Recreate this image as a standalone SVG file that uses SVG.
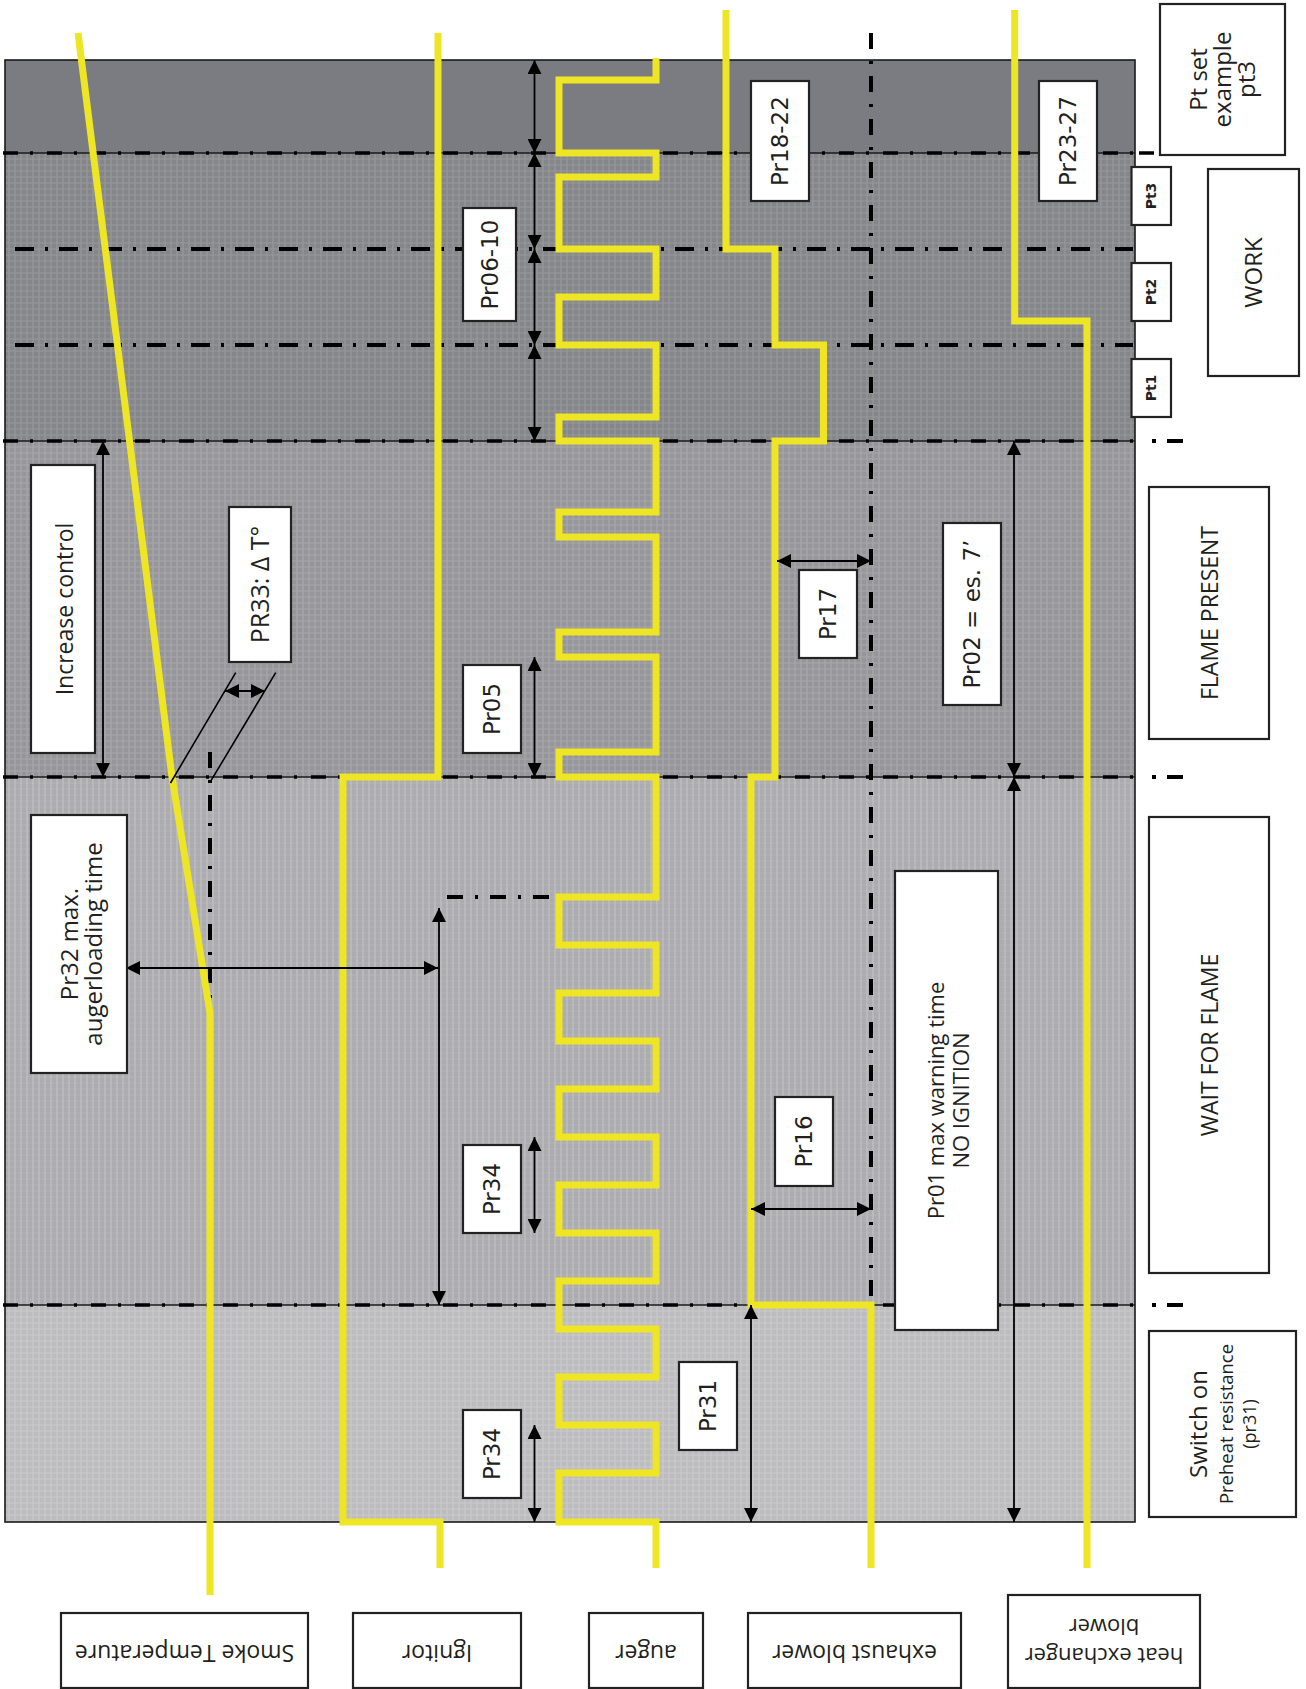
<svg xmlns="http://www.w3.org/2000/svg" width="1306" height="1689" viewBox="0 0 1306 1689">
<defs>
<pattern id="t2" width="6" height="6" patternUnits="userSpaceOnUse"><rect width="6" height="6" fill="#85868a"/><path d="M0,3H6M3,0V6" stroke="#97989c" stroke-width="1.2"/></pattern>
<pattern id="t3" width="6" height="6" patternUnits="userSpaceOnUse"><rect width="6" height="6" fill="#96969a"/><path d="M0,3H6M3,0V6" stroke="#a8a8ac" stroke-width="1.2"/></pattern>
<pattern id="t4" width="6" height="6" patternUnits="userSpaceOnUse"><rect width="6" height="6" fill="#acacb0"/><path d="M0,3H6" stroke="#b4b4b7" stroke-width="1"/><path d="M3,0V6" stroke="#bebec1" stroke-width="1.5"/></pattern>
<pattern id="t5" width="6" height="6" patternUnits="userSpaceOnUse"><rect width="6" height="6" fill="#bcbcbf"/><path d="M0,3H6M3,0V6" stroke="#cacacc" stroke-width="1.2"/></pattern>
<marker id="ah" viewBox="0 0 14 14" markerWidth="14" markerHeight="14" refX="14" refY="7" orient="auto-start-reverse" markerUnits="userSpaceOnUse"><path d="M0,0L14,7L0,14z" fill="#000"/></marker>
</defs>
<style>
.sig{fill:none;stroke:#EEE524;stroke-width:7;stroke-linejoin:miter}
.dim{stroke:#000;stroke-width:1.8;fill:none;marker-start:url(#ah);marker-end:url(#ah)}
.thin{stroke:#000;stroke-width:1.6;fill:none}
.edge{stroke:#1a1a1a;stroke-width:1.6;fill:none}
.bd{stroke:#000;stroke-width:3.5;stroke-dasharray:15 12 3 14;fill:none}
.dd{stroke:#000;stroke-width:4;stroke-dasharray:19 11 3 11;fill:none}
.vd{stroke:#000;stroke-width:4;stroke-dasharray:16 12 3 12;fill:none}
.box{fill:#fff;stroke:#222;stroke-width:2.2}
.pr{font-family:"DejaVu Sans",sans-serif;font-size:23px;fill:#231f20}
.lb{font-family:"Open Sans",sans-serif;fill:#231f20}
.pt{font-family:"DejaVu Sans",sans-serif;font-weight:bold;font-size:14px;fill:#231f20}
</style>

<g id="regions">
<rect x="5" y="60" width="1130" height="93" fill="#7b7c81"/>
<rect x="5" y="153" width="1130" height="288" fill="url(#t2)"/>
<rect x="5" y="441" width="1130" height="336" fill="url(#t3)"/>
<rect x="5" y="777" width="1130" height="528" fill="url(#t4)"/>
<rect x="5" y="1305" width="1130" height="217" fill="url(#t5)"/>
<rect x="5" y="60" width="1130" height="1462" class="edge"/>
<path class="edge" d="M5,153H1135M5,441H1135M5,777H1135M5,1305H1135"/>
</g>

<g id="guides">
<path class="bd" d="M3,153H1135M3,441H1135M3,777H1135M3,1305H1135"/>
<path class="bd" d="M1139,153H1154"/>
<path stroke="#000" stroke-width="4" fill="none" d="M1152,441H1156M1167,441H1183M1152,777H1156M1167,777H1183M1152,1305H1156M1167,1305H1183"/>
<path class="dd" d="M15,249H1133M15,345H1133"/>
<path class="vd" d="M871,33V1305"/>
<path class="vd" d="M210,752V1002"/>
<path class="vd" d="M447,897H557"/>
</g>

<g id="connectors">
<path class="sig" d="M78,33L172,777L210,1013V1595"/>
<path class="sig" d="M438,33V777H343V1522H440V1568"/>
<path class="sig" d="M656,58V80H559V153H656V177H559V249H656V297H559V345H656V417H559V441H656V512H559V537H656V632H559V657H656V752H559V777H656V897H559V945H656V993H559V1041H656V1089H559V1137H656V1185H559V1233H656V1281H559V1329H656V1377H559V1425H656V1473H559V1522H656V1568"/>
<path class="sig" d="M726,10V249H775V345H823.5V441H775V777H751V1305H871V1568"/>
<path class="sig" d="M1014.7,10V321H1087V1568"/>

<path class="dim" d="M534.5,60V153"/>
<path class="dim" d="M534.5,153V249"/>
<path class="dim" d="M534.5,249V345"/>
<path class="dim" d="M534.5,345V441"/>
<path class="dim" d="M534.5,657V777"/>
<path class="dim" d="M534.5,1137V1233"/>
<path class="dim" d="M534.5,1425V1522"/>
<path class="dim" d="M103,441V777"/>
<path class="dim" d="M1014,441V777"/>
<path class="dim" d="M1014,777V1522"/>
<path class="dim" d="M777,561H871"/>
<path class="dim" d="M751,1209H871"/>
<path class="dim" d="M751,1305V1522"/>
<path class="dim" d="M126,968H438"/>
<path class="dim" d="M439,908V1305"/>
<path class="dim" d="M225,691H265"/>
<path class="thin" d="M170.5,783L235.7,672.7M210.4,781.7L275.7,672.7"/>
</g>

<g id="n-pr06-10"><rect class="box" x="463" y="208" width="53" height="113"/><text class="pr" transform="translate(489.5,264.5) rotate(-90)" text-anchor="middle" y="8.4">Pr06-10</text></g>
<g id="n-pr18-22"><rect class="box" x="751" y="81" width="58" height="120"/><text class="pr" transform="translate(780,141) rotate(-90)" text-anchor="middle" y="8.4">Pr18-22</text></g>
<g id="n-pr23-27"><rect class="box" x="1039" y="81" width="58" height="120"/><text class="pr" transform="translate(1068,141) rotate(-90)" text-anchor="middle" y="8.4">Pr23-27</text></g>
<g id="n-pt3"><rect class="box" x="1131.5" y="167" width="39.5" height="58"/><text class="pt" transform="translate(1151,196) rotate(-90)" text-anchor="middle" y="5">Pt3</text></g>
<g id="n-pt2"><rect class="box" x="1131.5" y="263" width="39.5" height="58"/><text class="pt" transform="translate(1151,292) rotate(-90)" text-anchor="middle" y="5">Pt2</text></g>
<g id="n-pt1"><rect class="box" x="1131.5" y="359" width="39.5" height="58"/><text class="pt" transform="translate(1151,388) rotate(-90)" text-anchor="middle" y="5">Pt1</text></g>
<g id="n-ptset"><rect class="box" x="1160" y="4" width="125" height="151"/><text class="lb" font-size="24" transform="translate(1222.5,79.5) rotate(-90)" text-anchor="middle"><tspan x="0" y="-15.5">Pt set</tspan><tspan x="0" y="8.5">example</tspan><tspan x="0" y="32.5">pt3</tspan></text></g>
<g id="n-work"><rect class="box" x="1208" y="169" width="91" height="207"/><text class="lb" font-size="24" transform="translate(1253.5,272.5) rotate(-90)" text-anchor="middle" y="8.5">WORK</text></g>
<g id="n-increase"><rect class="box" x="31" y="465" width="64" height="288"/><text class="lb" font-size="23" transform="translate(63,609) rotate(-90)" text-anchor="middle" y="10">Increase control</text></g>
<g id="n-pr33"><rect class="box" x="229" y="507" width="62" height="155"/><text class="lb" font-size="25" transform="translate(260,584.5) rotate(-90)" text-anchor="middle" y="8.5">PR33: Δ T°</text></g>
<g id="n-pr05"><rect class="box" x="463" y="665" width="58" height="88"/><text class="pr" transform="translate(492,709) rotate(-90)" text-anchor="middle" y="8.4">Pr05</text></g>
<g id="n-pr17"><rect class="box" x="799" y="570" width="58" height="88"/><text class="pr" transform="translate(828,614) rotate(-90)" text-anchor="middle" y="8.4">Pr17</text></g>
<g id="n-pr02"><rect class="box" x="943" y="523" width="58" height="182"/><text class="pr" transform="translate(972,614) rotate(-90)" text-anchor="middle" y="8.4">Pr02 = es. 7’</text></g>
<g id="n-flame"><rect class="box" x="1149" y="487" width="120" height="252"/><text class="lb" font-size="23" transform="translate(1209,613) rotate(-90)" text-anchor="middle" y="9">FLAME PRESENT</text></g>
<g id="n-pr32"><rect class="box" x="31" y="815" width="96" height="258"/><text class="lb" font-size="24" transform="translate(79,944) rotate(-90)" text-anchor="middle"><tspan x="0" y="-1">Pr32 max.</tspan><tspan x="0" y="23">augerloading time</tspan></text></g>
<g id="n-pr01"><rect class="box" x="895" y="871" width="103" height="459"/><text class="lb" font-size="22" transform="translate(946.5,1100.5) rotate(-90)" text-anchor="middle"><tspan x="0" y="-2.5">Pr01 max warning time</tspan><tspan x="0" y="22">NO IGNITION</tspan></text></g>
<g id="n-wait"><rect class="box" x="1149" y="817" width="120" height="456"/><text class="lb" font-size="23" transform="translate(1209,1045) rotate(-90)" text-anchor="middle" y="9">WAIT FOR FLAME</text></g>
<g id="n-pr16"><rect class="box" x="775" y="1097" width="58" height="89"/><text class="pr" transform="translate(804,1141.5) rotate(-90)" text-anchor="middle" y="8.4">Pr16</text></g>
<g id="n-pr34a"><rect class="box" x="463" y="1145" width="58" height="88"/><text class="pr" transform="translate(492,1189) rotate(-90)" text-anchor="middle" y="8.4">Pr34</text></g>
<g id="n-pr34b"><rect class="box" x="463" y="1410" width="58" height="88"/><text class="pr" transform="translate(492,1454) rotate(-90)" text-anchor="middle" y="8.4">Pr34</text></g>
<g id="n-pr31"><rect class="box" x="679" y="1362" width="58" height="88"/><text class="pr" transform="translate(708,1406) rotate(-90)" text-anchor="middle" y="8.4">Pr31</text></g>
<g id="n-switch"><rect class="box" x="1149" y="1331" width="147" height="186"/><text class="lb" transform="translate(1222.5,1424) rotate(-90)" text-anchor="middle"><tspan x="0" y="-15.5" font-size="24">Switch on</tspan><tspan x="0" y="10.5" font-size="18.5">Preheat resistance</tspan><tspan x="0" y="33.5" font-size="18">(pr31)</tspan></text></g>

<g id="n-smoke"><rect class="box" x="61" y="1613" width="247" height="75"/><text class="lb" font-size="23" transform="rotate(180,184.5,1650.5)" x="184.5" y="1656" text-anchor="middle">Smoke Temperature</text></g>
<g id="n-ignitor"><rect class="box" x="353" y="1613" width="168" height="75"/><text class="lb" font-size="23" transform="rotate(180,437,1650.5)" x="437" y="1656" text-anchor="middle">Ignitor</text></g>
<g id="n-auger"><rect class="box" x="589" y="1613" width="114" height="75"/><text class="lb" font-size="23" transform="rotate(180,646,1650.5)" x="646" y="1656" text-anchor="middle">auger</text></g>
<g id="n-exhaust"><rect class="box" x="748" y="1613" width="213" height="75"/><text class="lb" font-size="23" transform="rotate(180,854.5,1650.5)" x="854.5" y="1656" text-anchor="middle">exhaust blower</text></g>
<g id="n-heatex"><rect class="box" x="1008" y="1595" width="192" height="93"/><text class="lb" font-size="22" transform="rotate(180,1104,1641)" text-anchor="middle"><tspan x="1104" y="1634">heat exchanger</tspan><tspan x="1104" y="1663">blower</tspan></text></g>
</svg>
